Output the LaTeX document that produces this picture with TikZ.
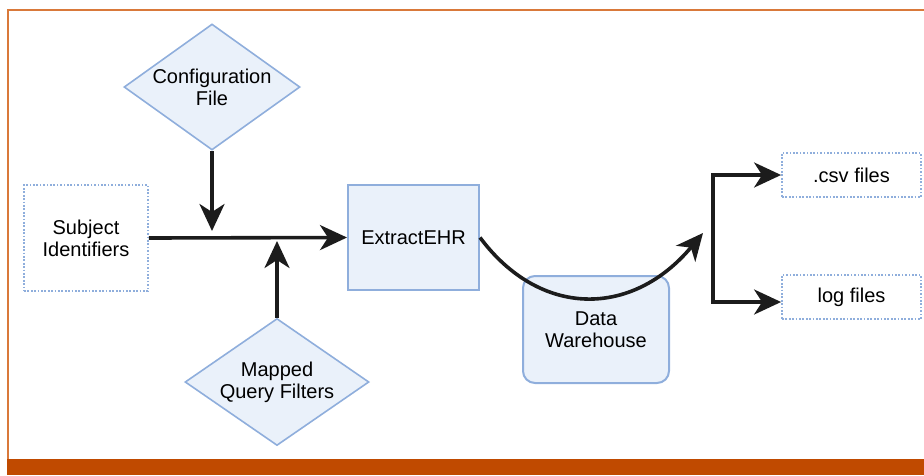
\documentclass[tikz,border=0pt]{standalone}
\usepackage{fontspec}
\setmainfont{Liberation Sans}
\usetikzlibrary{shapes.geometric,arrows.meta}
\definecolor{boxfill}{HTML}{EAF1FA}
\definecolor{boxline}{HTML}{8FAEDC}
\definecolor{arrcol}{HTML}{1C1C1C}
\definecolor{frameline}{HTML}{D9793A}
\definecolor{framebar}{HTML}{C04A00}
\tikzset{
  lbl/.style={align=center,font=\fontsize{20}{22}\selectfont,inner sep=0pt},
  dia/.style={diamond,draw=boxline,fill=boxfill,line width=1.6pt,inner sep=0pt},
  solidbox/.style={draw=boxline,fill=boxfill,line width=2pt,inner sep=0pt},
  dotbox/.style={draw=boxline,line width=1.8pt,dash pattern=on 1.7pt off 1.7pt,inner sep=0pt},
  arr/.style={draw=arrcol,line width=3.6pt,-{Stealth[length=27pt,width=25pt,inset=8pt]}},
}
\begin{document}
\begin{tikzpicture}[x=1pt,y=-1pt]
\useasboundingbox (0,0) rectangle (924,475);
% frame
\fill[framebar] (7,459) rectangle (924,475);
\draw[frameline,line width=2pt] (8,459) -- (8,9.5) -- (924,9.5);
% nodes
\node[dia,minimum width=176pt,minimum height=126pt] (cfg) at (212,87) {};
\node[lbl] (cfgt) at (cfg.center) {Configuration\\File};
\node[dia,minimum width=184pt,minimum height=127pt] (mqf) at (277,382) {};
\node[lbl] (mqft) at (mqf.center) {Mapped\\Query Filters};
\node[dotbox,minimum width=124pt,minimum height=106pt] (subj) at (86,238) {};
\node[lbl] (subjt) at (subj.center) {Subject\\Identifiers};
\node[solidbox,minimum width=131pt,minimum height=105pt] (ext) at (413.5,237.5) {};
\node[lbl] (extt) at (ext.center) {ExtractEHR};
\node[solidbox,rounded corners=12pt,minimum width=146pt,minimum height=107pt] (dw) at (596,329.5) {};
\node[lbl] (dwt) at (dw.center) {Data\\Warehouse};
\node[dotbox,minimum width=139pt,minimum height=44pt] (csv) at (851.5,175) {};
\node[lbl] (csvt) at (csv.center) {.csv files};
\node[dotbox,minimum width=139pt,minimum height=44pt] (log) at (851.5,297) {};
\node[lbl] (logt) at (log.center) {log files};
% connectors
\coordinate (cfgin) at (212,231);
\coordinate (mqfin) at (277,241);
\coordinate (curveend) at (703,233);
\coordinate (brtop) at (713,175);
\coordinate (brbot) at (713,302);
\draw[arr] (subj.east) -- (ext.west);
\draw[arr] (cfg.south) -- (cfgin);
\draw[arr] (mqf.north) -- (mqfin);
\draw[arr] (ext.east) .. controls (540,318) and (632,318) .. (curveend);
\draw[arr,line join=miter] (brbot) -- (brtop) -- (csv.west);
\draw[arr,line join=miter] (brtop) -- (brbot) -- (brbot -| log.west);
\end{tikzpicture}
\end{document}
